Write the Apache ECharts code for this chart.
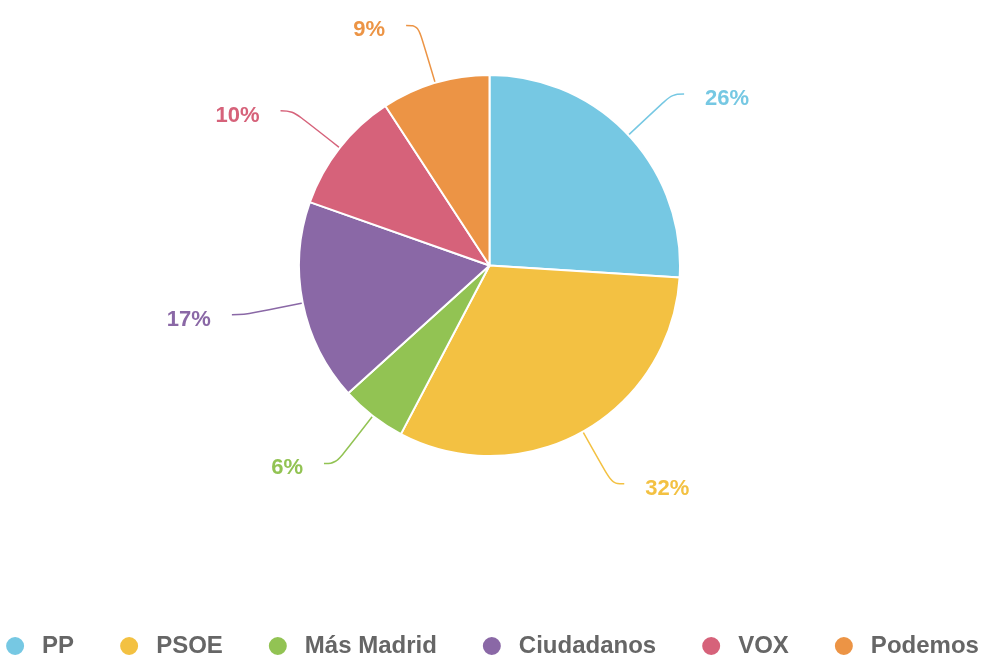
<!DOCTYPE html>
<html>
<head>
    <meta charset="utf-8">
    <title>Reparto</title>
    <script src="https://cdn.jsdelivr.net/npm/echarts@6/dist/echarts.min.js"></script>
    <style>
        html, body { margin: 0; padding: 0; background: #fff; }
    </style>
</head>
<body>
    <div id="main" style="width: 983px;height:656px;"></div>
<script type="text/javascript">
    var parties = ['PP', 'PSOE', 'Más Madrid', 'Ciudadanos', 'VOX', 'Podemos'];
    var shares = [26.0, 31.7, 5.6, 17.1, 10.4, 9.2];
    var colors = ['#76c8e3', '#f3c142', '#92c353', '#8a68a6', '#d6627a', '#ec9445'];

    var myChart = echarts.init(document.getElementById('main'));

    var pieData = parties.map(function (name, i) {
        return { name: name, value: shares[i] };
    });

    var option = {
        backgroundColor: '#ffffff',
        color: colors,
        animation: false,
        legend: {
            top: 634,
            left: 'center',
            width: 983,
            padding: 0,
            icon: 'circle',
            itemWidth: 20,
            itemHeight: 20,
            itemGap: 44,
            textStyle: {
                color: '#666666',
                fontSize: 24,
                fontWeight: 'bold',
                fontFamily: 'Liberation Sans',
                padding: [0, 0, 0, 12]
            },
            data: parties
        },
        series: [
            {
                name: 'Reparto',
                type: 'pie',
                center: [489.5, 265.5],
                radius: 190.5,
                startAngle: 90,
                clockwise: true,
                data: pieData,
                itemStyle: {
                    borderColor: '#ffffff',
                    borderWidth: 2
                },
                label: {
                    show: true,
                    position: 'outside',
                    formatter: function (p) {
                        return Math.round(p.percent) + '%';
                    },
                    color: 'inherit',
                    fontSize: 22,
                    fontWeight: 'bold',
                    fontFamily: 'Liberation Sans',
                    offset: [0, 5],
                    distanceToLabelLine: 21
                },
                labelLine: {
                    show: true,
                    length: 60,
                    length2: 12,
                    smooth: 0.4,
                    lineStyle: {
                        width: 1.5
                    }
                },
                emphasis: { disabled: true }
            }
        ]
    };
    myChart.setOption(option, true);
</script>
</body>
</html>
